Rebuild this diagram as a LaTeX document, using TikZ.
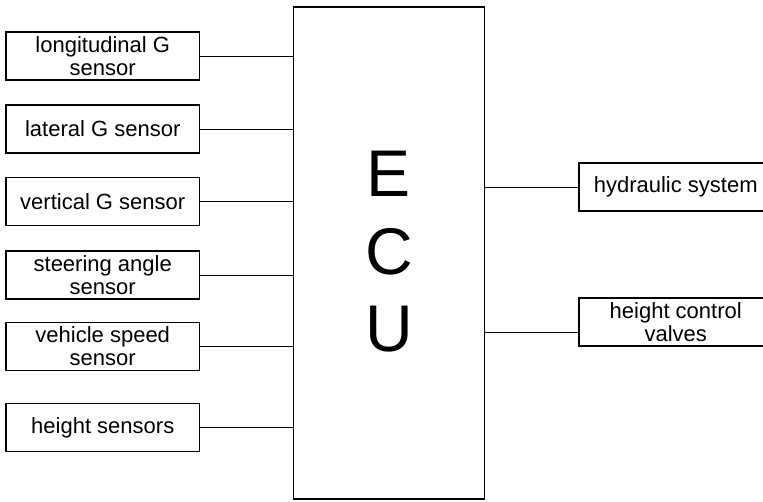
\documentclass[tikz,border=0pt]{standalone}
\usepackage{fontspec}
\setmainfont{Liberation Sans}
\begin{document}
\begin{tikzpicture}[x=1pt, y=-1pt,
        every node/.style={draw, line width=1.3pt, inner sep=0pt, align=center, font=\fontsize{22}{23}\selectfont},
        sensor/.style={minimum width=193.5pt, minimum height=48pt},
        ecubox/.style={minimum width=191pt, minimum height=492pt},
        bigletters/.style={draw=none, font=\fontsize{66}{77.5}\selectfont}]
        \clip (0, 0) rectangle (763, 501);
        \node[ecubox] (ecu) at (389, 253) {};
        \node[bigletters] (ecutext) at (389, 252) {E\\C\\U};
        \node[sensor] (long) at (102.75, 56) {longitudinal G\\sensor};
        \node[sensor] (lat) at (102.75, 129) {lateral G sensor};
        \node[sensor] (vert) at (102.75, 201.5) {vertical G sensor};
        \node[sensor] (steer) at (102.75, 275) {steering angle\\sensor};
        \node[sensor] (speed) at (102.75, 346.5) {vehicle speed\\sensor};
        \node[sensor] (height) at (102.75, 427.5) {height sensors};
        \node[sensor] (hyd) at (675.75, 187) {hydraulic system};
        \node[sensor] (valves) at (675.75, 322) {height control\\valves};
        \coordinate (valvesin) at ([yshift=-10pt]valves.west);
        \draw[line width=1pt] (long) -- (long -| ecu.west);
        \draw[line width=1pt] (lat) -- (lat -| ecu.west);
        \draw[line width=1pt] (vert) -- (vert -| ecu.west);
        \draw[line width=1pt] (steer) -- (steer -| ecu.west);
        \draw[line width=1pt] (speed) -- (speed -| ecu.west);
        \draw[line width=1pt] (height) -- (height -| ecu.west);
        \draw[line width=1pt] (hyd) -- (hyd -| ecu.east);
        \draw[line width=1pt] (valvesin) -- (valvesin -| ecu.east);
    \end{tikzpicture}
\end{document}
